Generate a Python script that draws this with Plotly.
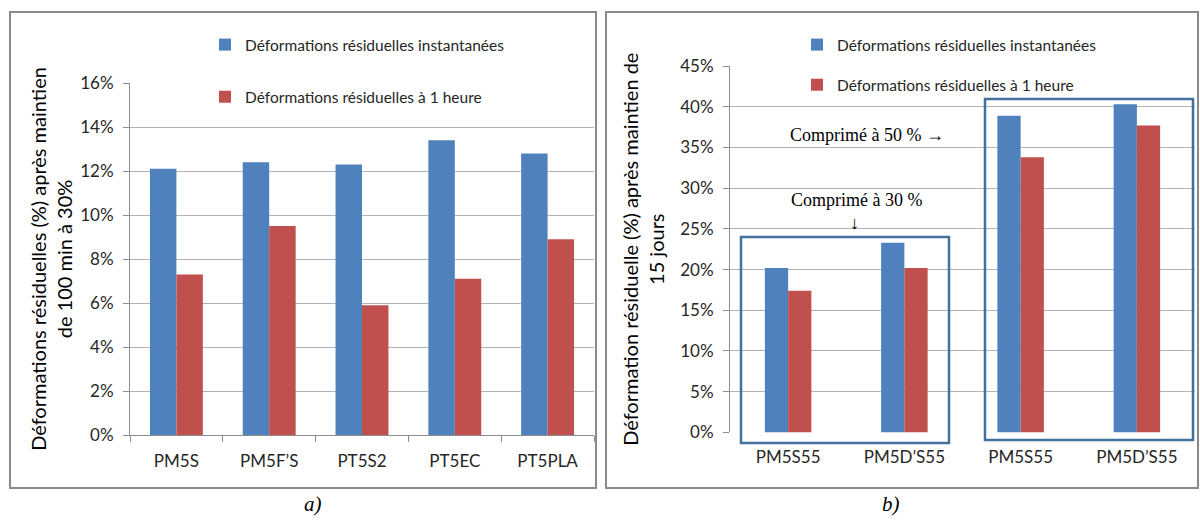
import plotly.graph_objects as go

# ---- data ----
cats_a = ["PM5S", "PM5F\u2019S", "PT5S2", "PT5EC", "PT5PLA"]
inst_a = [12.1, 12.4, 12.3, 13.4, 12.8]
hour_a = [7.3, 9.5, 5.9, 7.1, 8.9]

cats_b = ["PM5S55", "PM5D\u2019S55", "PM5S55", "PM5D\u2019S55"]
inst_b = [20.2, 23.3, 38.9, 40.3]
hour_b = [17.4, 20.2, 33.8, 37.7]

yticks_a = [0, 2, 4, 6, 8, 10, 12, 14, 16]
yticks_b = [0, 5, 10, 15, 20, 25, 30, 35, 40, 45]

name_inst = "Déformations résiduelles instantanées"
name_hour = "Déformations résiduelles à 1 heure"

BLUE = "#4F81BD"
RED = "#C0504D"
GRID = "#b3b3b3"
AXIS = "#8c8c8c"
FONT = "Lato"
W, H = 1200, 531

def px(x):
    return x / W

def py(y):
    return 1 - y / H

fig = go.Figure()
xb = list(range(len(cats_b)))

fig.add_trace(go.Bar(x=cats_a, y=inst_a, name=name_inst, marker_color=BLUE,
                     xaxis="x", yaxis="y", legend="legend", legendgroup="a1"))
fig.add_trace(go.Bar(x=cats_a, y=hour_a, name=name_hour, marker_color=RED,
                     xaxis="x", yaxis="y", legend="legend", legendgroup="a2"))
fig.add_trace(go.Bar(x=xb, y=inst_b, name=name_inst, marker_color=BLUE,
                     xaxis="x2", yaxis="y2", legend="legend2", legendgroup="b1"))
fig.add_trace(go.Bar(x=xb, y=hour_b, name=name_hour, marker_color=RED,
                     xaxis="x2", yaxis="y2", legend="legend2", legendgroup="b2"))

tickfont = dict(family=FONT, size=17, color="#262626")
titlefont = dict(family=FONT, size=20, color="#000000")

common_y = dict(showgrid=True, gridcolor=GRID, gridwidth=1, showline=True,
                linecolor=AXIS, linewidth=1, ticks="outside", ticklen=6,
                tickcolor=AXIS, tickfont=tickfont, automargin=False,
                zeroline=False, ticklabelstandoff=6)

fig.update_layout(
    template="none",
    width=W, height=H, autosize=False,
    margin=dict(l=0, r=0, t=0, b=0, pad=0),
    paper_bgcolor="white", plot_bgcolor="white",
    barmode="group",
    showlegend=True,
    xaxis=dict(domain=[px(130), px(594)], anchor="y", type="category",
               showline=True, linecolor=AXIS, ticks="outside", ticklen=6,
               tickcolor=AXIS, tickson="boundaries", tickfont=tickfont,
               showgrid=False, ticklabelstandoff=11, automargin=False),
    yaxis=dict(domain=[py(435), py(83)], anchor="x", range=[0, 16],
               tickvals=yticks_a, ticktext=[f"{v}%" for v in yticks_a],
               title=dict(text="Déformations résiduelles (%) après maintien<br>de 100 min à 30%",
                          font=titlefont, standoff=2),
               **common_y),
    xaxis2=dict(domain=[px(730), px(1195)], anchor="y2", range=[-0.5, 3.5],
                tickvals=xb, ticktext=cats_b, showline=False, ticks="",
                tickfont=tickfont, showgrid=False, zeroline=False,
                ticklabelstandoff=13, automargin=False),
    yaxis2=dict(domain=[py(432.4), py(66)], anchor="x2", range=[0, 45],
                tickvals=yticks_b, ticktext=[f"{v}%" for v in yticks_b],
                title=dict(text="Déformation résiduelle (%) après maintien de<br>15 jours",
                           font=titlefont, standoff=10),
                **common_y),
    bargap=0.43,
    legend=dict(x=px(205), y=py(28), xanchor="left", yanchor="top",
                bgcolor="rgba(0,0,0,0)", traceorder="grouped", tracegroupgap=29,
                font=dict(family=FONT, size=15.5, color="#262626")),
    legend2=dict(x=px(797), y=py(28), xanchor="left", yanchor="top",
                 bgcolor="rgba(0,0,0,0)", traceorder="grouped", tracegroupgap=17,
                 font=dict(family=FONT, size=15.5, color="#262626")),
)

# right chart has narrower bars
fig.update_traces(selector=dict(xaxis="x2"), width=0.2)
fig.update_traces(selector=dict(xaxis="x2", name=name_inst), offset=-0.2)
fig.update_traces(selector=dict(xaxis="x2", name=name_hour), offset=0.0)
fig.update_traces(marker_line_width=0)

shapes = []
# white areas behind legends that hide the top gridlines
shapes.append(dict(type="rect", xref="paper", yref="paper", layer="above",
                   x0=px(215), x1=px(594), y0=py(20), y1=py(113),
                   fillcolor="white", line=dict(width=0)))
shapes.append(dict(type="rect", xref="paper", yref="paper", layer="above",
                   x0=px(798), x1=px(1195), y0=py(20), y1=py(98),
                   fillcolor="white", line=dict(width=0)))
# panel borders
shapes.append(dict(type="rect", xref="paper", yref="paper", layer="above",
                   x0=px(10), x1=px(596), y0=py(12), y1=py(488),
                   line=dict(color="#8a8a8a", width=2)))
shapes.append(dict(type="rect", xref="paper", yref="paper", layer="above",
                   x0=px(606), x1=px(1198), y0=py(12), y1=py(488),
                   line=dict(color="#8a8a8a", width=2)))
# group boxes
BOX = "#41719C"
shapes.append(dict(type="rect", xref="paper", yref="paper", layer="above",
                   x0=px(741), x1=px(949), y0=py(237), y1=py(443),
                   line=dict(color=BOX, width=2.5)))
shapes.append(dict(type="rect", xref="paper", yref="paper", layer="above",
                   x0=px(985), x1=px(1193), y0=py(99), y1=py(440),
                   line=dict(color=BOX, width=2.5)))
fig.update_layout(shapes=shapes)

serif = dict(family="Liberation Serif", size=18, color="#000000")
annos = [
    dict(text="Comprimé à 50 % \u2192", x=px(867), y=py(135)),
    dict(text="Comprimé à 30 %", x=px(856), y=py(200)),
    dict(text="\u2193", x=px(854), y=py(223)),
]
for a in annos:
    fig.add_annotation(xref="paper", yref="paper", showarrow=False,
                       xanchor="center", yanchor="middle", font=serif, **a)

cap = dict(family="Liberation Serif", size=21, color="#000000")
fig.add_annotation(text="<i>a)</i>", xref="paper", yref="paper", x=px(302), y=py(518),
                   showarrow=False, font=cap)
fig.add_annotation(text="<i>b)</i>", xref="paper", yref="paper", x=px(902), y=py(518),
                   showarrow=False, font=cap)

fig.write_html("out.html", config={"displayModeBar": False},
               post_script="document.body.style.margin='0px';")
